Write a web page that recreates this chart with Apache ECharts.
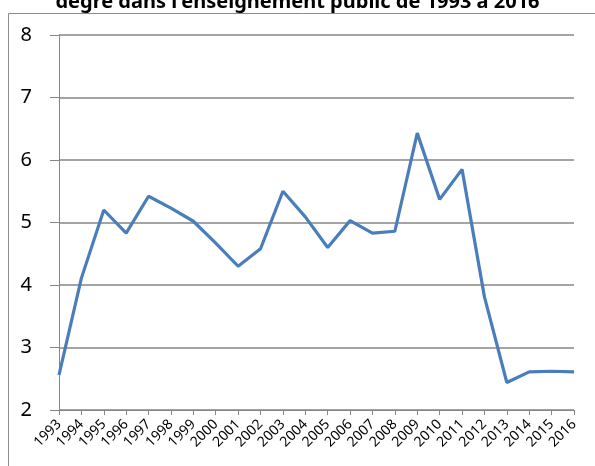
<!DOCTYPE html>
<html><head><meta charset="utf-8">
<script src="https://cdn.jsdelivr.net/npm/echarts@6/dist/echarts.min.js"></script>
<style>html,body{margin:0;padding:0;background:#fff}#c{width:595px;height:466px}</style>
</head><body><div id="c"></div>
<script>
const years = ['1993','1994','1995','1996','1997','1998','1999','2000','2001','2002','2003','2004','2005','2006','2007','2008','2009','2010','2011','2012','2013','2014','2015','2016'];
const values = [2.56,4.11,5.2,4.83,5.42,5.23,5.02,4.67,4.3,4.58,5.5,5.09,4.6,5.03,4.83,4.86,6.43,5.37,5.85,3.81,2.44,2.61,2.62,2.61];
const yTicks = {min:2, max:8, interval:1};
const titleText = "degré dans l'enseignement public de 1993 à 2016";

const chart = echarts.init(document.getElementById('c'), null, {renderer:'canvas'});
chart.setOption({
  animation:false,
  title:{text:titleText, left:'center', top:-13, textStyle:{fontFamily:'Noto Sans', fontWeight:'bold', fontSize:20, color:'#000'}},
  graphic:[{type:'polyline', shape:{points:[[8.5,470],[8.5,13.5],[600,13.5]]}, style:{stroke:'#8c8c8c', lineWidth:1, fill:null}, z:0},
           {type:'rect', shape:{x:0,y:12,width:595,height:1}, style:{fill:'#fff'}, z:-1}],
  grid:{left:59, right:21, top:35, bottom:56},
  xAxis:{type:'category', data:years, boundaryGap:false,
    axisLine:{lineStyle:{color:'#868686', width:1}},
    axisTick:{show:true, alignWithLabel:true, length:5, lineStyle:{color:'#868686'}},
    axisLabel:{rotate:45, interval:0, fontFamily:'Noto Sans', fontSize:14, color:'#000', margin:12},
    splitLine:{show:false}},
  yAxis:{type:'value', min:yTicks.min, max:yTicks.max, interval:yTicks.interval,
    axisLine:{show:true, lineStyle:{color:'#868686', width:1}},
    axisTick:{show:true, length:9, lineStyle:{color:'#868686'}},
    axisLabel:{fontFamily:'Noto Sans', fontSize:20, color:'#000', margin:27},
    splitLine:{lineStyle:{color:'#868686', width:1.5}}},
  series:[{type:'line', data:values, symbol:'none', lineStyle:{color:'#4a7ebb', width:3.2}, itemStyle:{color:'#4a7ebb'}}]
});
</script></body></html>
